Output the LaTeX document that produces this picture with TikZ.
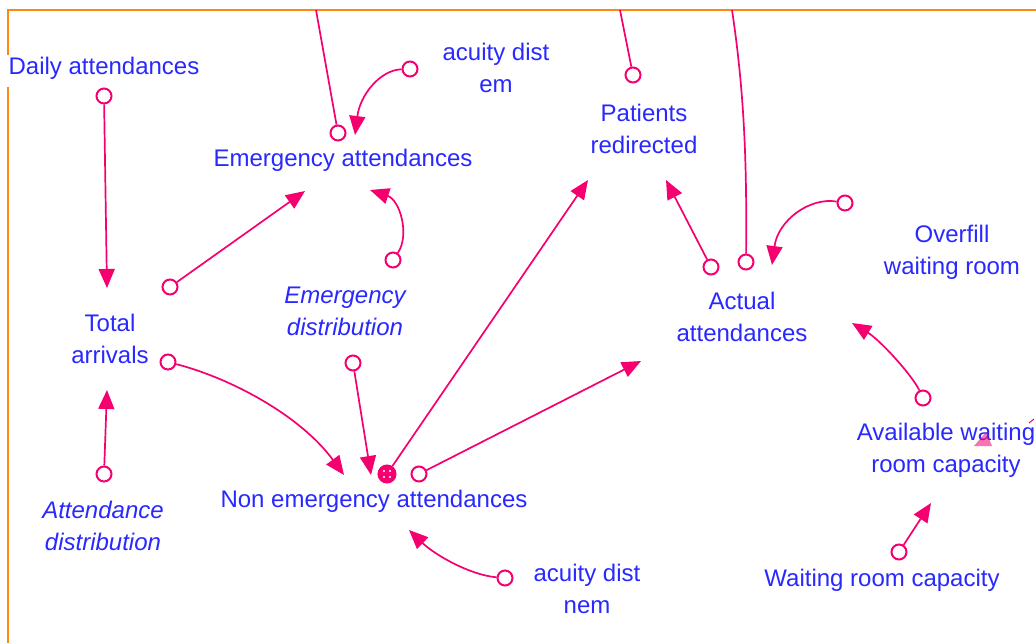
\documentclass[tikz,border=0pt]{standalone}
\usepackage{fontspec}
\setmainfont{Liberation Sans}
\usetikzlibrary{arrows.meta,calc}
\definecolor{lnk}{RGB}{245,0,110}
\definecolor{txt}{RGB}{40,40,255}
\definecolor{frm}{RGB}{255,136,20}
\begin{document}
\begin{tikzpicture}[x=1pt,y=-1pt,
  var/.style={text=txt,align=center,inner sep=0pt,font=\fontsize{24}{32}\selectfont},
  ivar/.style={var,font=\fontsize{24}{32}\selectfont\itshape},
  tailc/.style={circle,draw=lnk,line width=2pt,minimum size=15pt,inner sep=0pt},
  link/.style={draw=lnk,line width=1.7pt,-{Triangle[length=19pt,width=16pt]}},
  plain/.style={draw=lnk,line width=1.7pt}]
\useasboundingbox (0,0) rectangle (1036,643);
% frame
\draw[frm,line width=2pt] (8,55) -- (8,10) -- (1036,10);
\draw[frm,line width=2pt] (8,87) -- (8,643);
% variables
\node[var] (daily) at (104,68) {Daily attendances};
\node[var] (acem) at (496,68) {acuity dist\\em};
\node[var] (pred) at (644,129) {Patients\\redirected};
\node[var] (emerg) at (343,160) {Emergency attendances};
\node[var] (overfill) at (952,252) {Overfill\\waiting room};
\node[var] (total) at (110,339) {Total\\arrivals};
\node[ivar] (edist) at (345,311) {Emergency\\distribution};
\node[var] (actual) at (742,317) {Actual\\attendances};
\node[var] (avail) at (946,450) {Available waiting\\room capacity};
\node[ivar] (adist) at (103,526) {Attendance\\distribution};
\node[var] (nonem) at (374,501) {Non emergency attendances};
\node[var] (acnem) at (587,589) {acuity dist\\nem};
\node[var] (wrc) at (882,580) {Waiting room capacity};
% stray marks near "waiting"
\fill[lnk,opacity=0.55] (974,446) -- (992,446) -- (986,432) -- cycle;
\draw[lnk,line width=1pt] (1029,423) -- (1034,419);
% tail circles
\node[tailc] (cdaily) at (104,96) {};
\node[tailc] (cemup) at (338,133) {};
\node[tailc] (cacem) at (410,69) {};
\node[tailc] (cedist1) at (393,260) {};
\node[tailc] (ctotal1) at (170,287) {};
\node[tailc] (ctotal2) at (168,362) {};
\node[tailc] (cedist2) at (353,363) {};
\node[tailc,fill=lnk,minimum size=17pt] (cnonx) at (387,474) {};
\foreach \dx/\dy in {-3/-3,3/-3,-3/3,3/3} \fill[white] ($(cnonx)+(\dx,\dy)$) circle (1.2pt);
\node[tailc] (cnon2) at (419,474) {};
\node[tailc] (cacnem) at (505,578) {};
\node[tailc] (cpredup) at (633,75) {};
\node[tailc] (cactup) at (746,262) {};
\node[tailc] (cact2) at (711,267) {};
\node[tailc] (cover) at (845,203) {};
\node[tailc] (cavail) at (923,398) {};
\node[tailc] (cwrc) at (899,552) {};
\node[tailc] (cadist) at (104,474) {};
% heads / free ends
\coordinate (hdaily) at (107,288);
\coordinate (hacem) at (355,135);
\coordinate (hedist1) at (370,190);
\coordinate (htotal1) at (305,191);
\coordinate (htotal2) at (344,475);
\coordinate (hedist2) at (371,475);
\coordinate (hnonx) at (588,180);
\coordinate (hnon2) at (641,361);
\coordinate (hacnem) at (409,530);
\coordinate (hact2) at (666,180);
\coordinate (hover) at (772,265);
\coordinate (havail) at (852,323);
\coordinate (hwrc) at (931,503);
\coordinate (hadist) at (107,390);
\coordinate (temup) at (316,10);
\coordinate (tpredup) at (620,10);
\coordinate (tactup) at (732,10);
% connectors
\draw[link] (cdaily) -- (hdaily);
\draw[plain] (cemup) -- (temup);
\draw[link] (cacem) .. controls (380,70) and (360,95) .. (hacem);
\draw[link] (cedist1) .. controls (410,235) and (400,200) .. (hedist1);
\draw[link] (ctotal1) -- (htotal1);
\draw[link] (ctotal2) .. controls (230,378) and (300,415) .. (htotal2);
\draw[link] (cedist2) -- (hedist2);
\draw[link] (cnonx) -- (hnonx);
\draw[link] (cnon2) -- (hnon2);
\draw[link] (cacnem) .. controls (470,575) and (435,555) .. (hacnem);
\draw[plain] (cpredup) -- (tpredup);
\draw[plain] (cactup) .. controls (747,160) and (744,90) .. (tactup);
\draw[link] (cact2) -- (hact2);
\draw[link] (cover) .. controls (810,197) and (778,220) .. (hover);
\draw[link] (cavail) .. controls (912,375) and (880,340) .. (havail);
\draw[link] (cwrc) -- (hwrc);
\draw[link] (cadist) -- (hadist);
\end{tikzpicture}
\end{document}
